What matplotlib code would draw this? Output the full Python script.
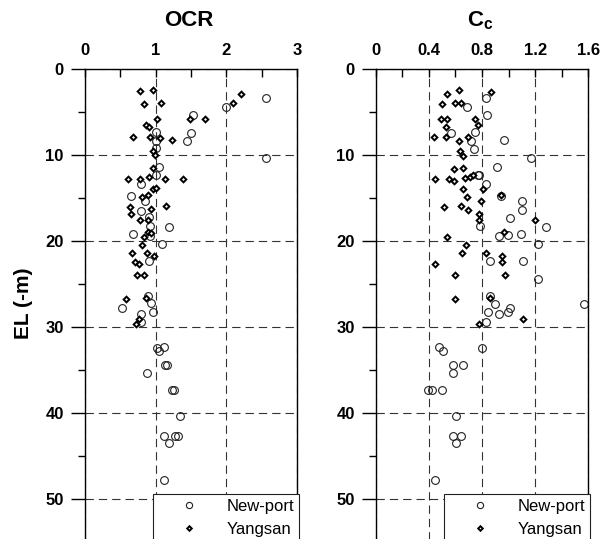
import matplotlib
matplotlib.use('Agg')
import matplotlib.pyplot as plt
from matplotlib.ticker import MultipleLocator, FixedLocator

plt.rcParams['font.family'] = ['Liberation Sans', 'DejaVu Sans']
plt.rcParams['mathtext.fontset'] = 'custom'
plt.rcParams['mathtext.rm'] = 'Liberation Sans'
plt.rcParams['mathtext.bf'] = 'Liberation Sans:bold'
plt.rcParams['lines.scale_dashes'] = False

# New-port OCR (depth in m, OCR)
np_ocr_depth = [3.4, 4.4, 5.35, 7.4, 8.4, 10.4, 7.3, 8.4, 9.2, 11.4, 12.3, 13.4, 14.8, 15.4,
                16.5, 17.2, 18.3, 18.4, 19.2, 19.4, 20.4, 22.3, 26.4, 27.2, 27.8, 28.3, 28.5,
                29.4, 32.3, 32.4, 32.8, 34.4, 34.4, 35.4, 37.3, 37.3, 40.4, 42.7, 42.7, 42.7,
                43.45, 47.8]
np_ocr = [2.56, 1.99, 1.53, 1.50, 1.45, 2.56, 1.00, 1.00, 1.00, 1.05, 1.00, 0.80, 0.65, 0.85,
          0.79, 0.91, 0.92, 1.19, 0.68, 0.92, 1.09, 0.91, 0.90, 0.93, 0.52, 0.96, 0.79,
          0.79, 1.12, 1.02, 1.05, 1.13, 1.16, 0.88, 1.23, 1.26, 1.34, 1.12, 1.28, 1.31,
          1.19, 1.12]

# Yangsan OCR
ys_ocr_depth = [2.6, 2.4, 4.1, 3.9, 2.9, 3.9, 5.85, 5.85, 5.85, 6.5, 6.7, 7.9, 7.9, 8.0, 8.3,
                9.5, 10.0, 11.5, 12.8, 12.8, 12.5, 12.8, 12.8, 13.9, 13.8, 14.65, 14.9, 16.0,
                15.9, 16.3, 16.9, 17.5, 17.6, 18.9, 19.5, 19.1, 20.5, 21.4, 21.4, 21.7, 22.4,
                22.7, 23.9, 23.9, 26.7, 26.6, 29.1, 29.6]
ys_ocr = [0.78, 0.97, 0.83, 1.07, 2.20, 2.09, 1.70, 1.49, 1.02, 0.86, 0.91, 0.68, 0.92, 1.06, 1.23,
          0.96, 0.99, 0.96, 0.61, 0.78, 0.91, 1.13, 1.39, 0.96, 1.00, 0.90, 0.81, 0.64,
          1.15, 0.93, 0.65, 0.78, 0.90, 0.90, 0.83, 0.93, 0.81, 0.67, 0.88, 0.98, 0.71,
          0.76, 0.74, 0.84, 0.58, 0.86, 0.76, 0.72]

# New-port Cc
np_cc_depth = [3.4, 4.4, 5.4, 7.4, 7.3, 8.4, 8.3, 9.3, 10.4, 11.4, 12.3, 12.3, 13.4, 14.8, 15.4,
               16.4, 17.3, 18.3, 18.4, 19.4, 19.3, 19.2, 20.4, 22.3, 22.3, 24.4, 26.4, 27.3,
               27.3, 27.8, 28.3, 28.5, 28.3, 29.4, 32.3, 32.8, 32.4, 34.4, 34.4, 35.4, 37.3,
               37.3, 37.3, 40.4, 42.7, 42.7, 43.45, 47.8]
np_cc = [0.828, 0.685, 0.84, 0.57, 0.745, 0.72, 0.965, 0.738, 1.17, 0.91, 0.77, 0.78, 0.83, 0.945, 1.10,
         1.10, 1.01, 0.785, 1.28, 0.93, 0.995, 1.095, 1.22, 0.86, 1.11, 1.22, 0.863, 0.90,
         1.57, 1.01, 0.995, 0.93, 0.845, 0.83, 0.475, 0.505, 0.80, 0.58, 0.66, 0.58, 0.395,
         0.425, 0.50, 0.605, 0.58, 0.64, 0.605, 0.45]

# Yangsan Cc
ys_cc_depth = [2.4, 2.9, 2.7, 4.1, 3.9, 3.9, 5.85, 5.85, 6.7, 5.85, 6.5, 7.9, 7.9, 8.4, 7.9,
               9.5, 10.1, 11.6, 11.5, 12.8, 12.8, 13.0, 12.7, 12.5, 12.3, 13.9, 13.9, 14.65,
               14.9, 16.0, 15.9, 16.4, 15.4, 16.9, 17.6, 17.6, 18.9, 19.5, 20.5, 21.4, 21.4,
               21.7, 22.4, 22.7, 23.9, 23.9, 26.7, 26.6, 29.1, 29.6]
ys_cc = [0.625, 0.54, 0.87, 0.50, 0.60, 0.64, 0.495, 0.54, 0.53, 0.745, 0.77, 0.44, 0.53, 0.625, 0.695,
         0.633, 0.66, 0.59, 0.66, 0.45, 0.55, 0.59, 0.675, 0.71, 0.73, 0.81, 0.66, 0.945,
         0.69, 0.515, 0.64, 0.695, 0.795, 0.78, 1.20, 0.78, 0.963, 0.54, 0.68, 0.65, 0.83,
         0.95, 0.95, 0.445, 0.60, 0.97, 0.60, 0.863, 1.11, 0.78]

fig = plt.figure(figsize=(6.12, 5.39), dpi=100)

W, H = 612.0, 539.0
top_px = 69.0
ax_h = 57 * 8.6
ax_w = 212.6


def setup_panel(ax, xmax, xmajor, xminor, xlabels, title):
    ax.set_xlim(0, xmax)
    ax.set_ylim(57, 0)
    ax.xaxis.tick_top()
    ax.xaxis.set_major_locator(MultipleLocator(xmajor))
    ax.xaxis.set_minor_locator(MultipleLocator(xminor))
    ax.set_xticks([i * xmajor for i in range(len(xlabels))])
    ax.set_xticklabels(xlabels, fontsize=12, fontweight='bold')
    ax.tick_params(axis='x', which='both', direction='in', length=5.8, width=1.0,
                   pad=8.0, top=True, bottom=False)
    ax.yaxis.set_major_locator(MultipleLocator(10))
    ax.yaxis.set_minor_locator(FixedLocator([5, 15, 25, 35, 45, 55]))
    ax.set_yticks([0, 10, 20, 30, 40, 50])
    ax.set_yticklabels(['0', '10', '20', '30', '40', '50'], fontsize=12, fontweight='bold')
    ax.tick_params(axis='y', which='major', direction='out', length=10, width=1.0, pad=5)
    ax.tick_params(axis='y', which='minor', direction='out', length=5, width=1.0)
    ax.tick_params(axis='y', which='both', right=False)
    for s in ax.spines.values():
        s.set_linewidth(1.0)
    ax.grid(True, which='major', color='#333333', linestyle=(0, (6, 3.6)), linewidth=0.8)
    ax.set_axisbelow(True)
    ax.text(0.49, 1 + 43 / ax_h, title, transform=ax.transAxes, ha='center',
            va='baseline', fontsize=16, fontweight='bold')


def draw_points(ax, x1, y1, x2, y2):
    ax.plot(x1, y1, linestyle='none', marker='o', markersize=5.6, markerfacecolor='none',
            markeredgecolor='#222222', markeredgewidth=0.8, label='New-port')
    ax.plot(x2, y2, linestyle='none', marker='D', markersize=2.9, markerfacecolor='white',
            markeredgecolor='black', markeredgewidth=1.4, label='Yangsan')
    leg = ax.legend(loc='upper left', bbox_to_anchor=(0.32, (ax_h - (494 - top_px)) / ax_h),
                    borderaxespad=0, fontsize=12, handlelength=3.76, handletextpad=0.42,
                    borderpad=0.27, labelspacing=0.48, markerscale=0.8, fancybox=False,
                    framealpha=1, edgecolor='#222222')
    leg.get_frame().set_linewidth(0.8)


ax1 = fig.add_axes([84.7 / W, 1 - (top_px + ax_h) / H, ax_w / W, ax_h / H])
setup_panel(ax1, 3, 1, 0.5, ['0', '1', '2', '3'], 'OCR')
draw_points(ax1, np_ocr, np_ocr_depth, ys_ocr, ys_ocr_depth)

ax2 = fig.add_axes([375.7 / W, 1 - (top_px + ax_h) / H, ax_w / W, ax_h / H])
setup_panel(ax2, 1.6, 0.4, 0.2, ['0', '0.4', '0.8', '1.2', '1.6'], r'$\mathbf{C_c}$')
draw_points(ax2, np_cc, np_cc_depth, ys_cc, ys_cc_depth)

fig.text(23.5 / W, 1 - 303.5 / H, 'EL (-m)', rotation=90, ha='center', va='center',
         fontsize=15, fontweight='bold')

fig.savefig('out.png', dpi=100)
